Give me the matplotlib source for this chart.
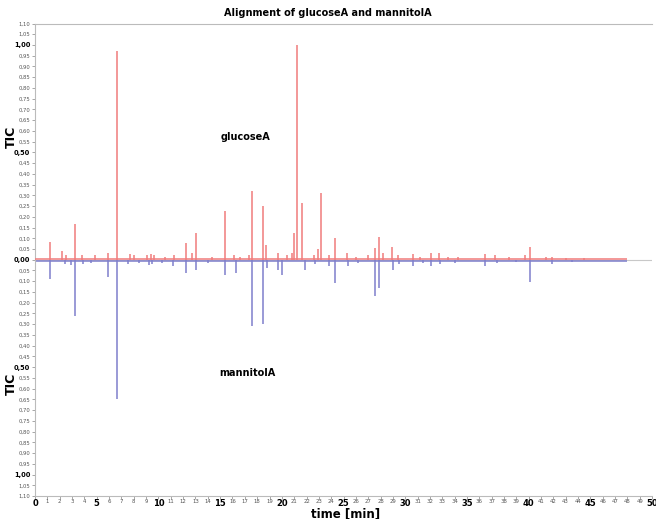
import matplotlib
matplotlib.use("Agg")
import matplotlib.pyplot as plt
import numpy as np

# ---- data ----
glucose_times = [1.19, 2.2, 2.5, 3.24, 3.8, 4.9, 5.9, 6.67, 7.7, 8.0, 9.1, 9.4, 9.6,
                 10.5, 11.3, 12.2, 12.7, 13.05, 14.3, 15.4, 16.1, 16.6, 17.3, 17.6, 18.5,
                 18.7, 19.7, 20.4, 20.8, 21.0, 21.26, 21.6, 22.6, 22.9, 23.2, 23.8, 24.3,
                 25.3, 26.0, 27.0, 27.55, 27.9, 28.2, 28.95, 29.4, 30.6, 31.2, 32.1, 32.7,
                 33.5, 34.3, 36.5, 37.3, 38.4, 39.7, 40.1, 41.4, 41.9, 43.0, 44.5]
glucose_vals = [0.085, 0.04, 0.02, 0.167, 0.02, 0.02, 0.03, 0.97, 0.025, 0.02, 0.02, 0.025, 0.02,
                0.015, 0.02, 0.08, 0.03, 0.125, 0.015, 0.225, 0.02, 0.015, 0.02, 0.32, 0.25,
                0.07, 0.03, 0.02, 0.03, 0.125, 1.00, 0.265, 0.02, 0.05, 0.31, 0.02, 0.10,
                0.03, 0.015, 0.02, 0.055, 0.107, 0.03, 0.06, 0.02, 0.025, 0.015, 0.03, 0.03,
                0.015, 0.015, 0.025, 0.02, 0.012, 0.02, 0.06, 0.012, 0.015, 0.01, 0.008]

mannitol_times = [1.19, 2.4, 2.9, 3.24, 3.9, 4.5, 5.9, 6.67, 7.5, 8.4, 9.2, 9.5, 10.3,
                  11.2, 12.2, 13.05, 14.0, 15.4, 16.3, 17.6, 18.5, 18.8, 19.7, 20.0, 21.9,
                  22.7, 23.8, 24.3, 25.4, 26.2, 27.55, 27.9, 29.0, 29.5, 30.6, 31.4, 32.1,
                  32.8, 34.0, 36.5, 37.4, 39.0, 40.1, 41.9, 43.5]
mannitol_vals = [0.088, 0.02, 0.025, 0.26, 0.02, 0.015, 0.08, 0.65, 0.02, 0.015, 0.025, 0.02, 0.015,
                 0.03, 0.06, 0.05, 0.015, 0.07, 0.06, 0.31, 0.30, 0.04, 0.05, 0.07, 0.05,
                 0.02, 0.03, 0.11, 0.03, 0.015, 0.17, 0.13, 0.05, 0.02, 0.03, 0.015, 0.03,
                 0.02, 0.015, 0.03, 0.015, 0.012, 0.105, 0.02, 0.01]

run_end = 48.0
baseline_offset = 0.004

title = "Alignment of glucoseA and mannitolA"
xlabel = "time [min]"
ylabel = "TIC"
label_top = "glucoseA"
label_bottom = "mannitolA"

red = "#f07c7c"
blue = "#7f7fcc"

fig = plt.figure(figsize=(6.56, 5.19), dpi=100)
ax = fig.add_axes([0.0534, 0.0443, 0.9406, 0.9104])

ax.axhline(0, color="#c8c8c8", lw=0.8, zorder=1)
ax.hlines(-baseline_offset, 0, run_end, color=blue, lw=1.1, zorder=2)
ax.vlines(mannitol_times, 0, -np.array(mannitol_vals), color=blue, lw=1.1, zorder=2)
ax.hlines(baseline_offset, 0, run_end, color=red, lw=1.1, zorder=3)
ax.vlines(glucose_times, 0, glucose_vals, color=red, lw=1.1, zorder=3)

ax.set_xlim(0, 50)
ax.set_ylim(-1.1, 1.1)

# y ticks
yt = np.round(np.arange(-1.10, 1.1001, 0.05), 2)
ax.set_yticks(yt)
ax.set_yticklabels([f"{abs(v):.2f}".replace(".", ",") for v in yt])
for lab, v in zip(ax.get_yticklabels(), yt):
    if abs(v) in (0.0, 0.5, 1.0):
        lab.set_fontweight("bold"); lab.set_fontsize(4.8); lab.set_color("black")
    else:
        lab.set_fontsize(3.8); lab.set_color("#555555")

xt = np.arange(0, 51, 1)
ax.set_xticks(xt)
ax.set_xticklabels([str(v) for v in xt])
for lab, v in zip(ax.get_xticklabels(), xt):
    if v % 5 == 0:
        lab.set_fontweight("bold"); lab.set_fontsize(6.0); lab.set_color("black")
    else:
        lab.set_fontsize(3.9); lab.set_color("#555555")

ax.tick_params(axis="both", length=2, width=0.6, color="#999999", pad=1.5)
ax.tick_params(axis="x", pad=0.5)
ax.spines["right"].set_visible(False)
for s in ["top", "left", "bottom"]:
    ax.spines[s].set_color("#bbbbbb")
    ax.spines[s].set_linewidth(0.8)

fig.text(0.5, 0.975, title, ha="center", va="center", fontsize=7, fontweight="bold")
fig.text(0.527, 1 - 514 / 519, xlabel, ha="center", va="center", fontsize=8.5, fontweight="bold")
ax.text(15.0, 0.57, label_top, fontsize=7, fontweight="bold", ha="left", va="center")
ax.text(14.9, -0.525, label_bottom, fontsize=7, fontweight="bold", ha="left", va="center")
for yv in (0.57, -0.58):
    fig.text(0.017, ax.transData.transform((0, yv))[1] / fig.bbox.height, ylabel,
             rotation=90, fontsize=9, fontweight="bold", ha="center", va="center")

fig.savefig("out.png", dpi=100)
